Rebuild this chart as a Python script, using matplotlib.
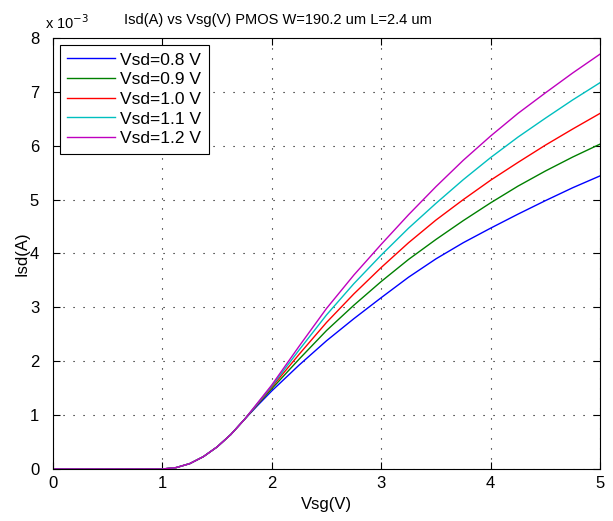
import numpy as np
import matplotlib
matplotlib.use('Agg')
import matplotlib.pyplot as plt
from matplotlib.ticker import FuncFormatter, MultipleLocator

plt.rcParams['font.family'] = ['Liberation Sans', 'DejaVu Sans']

# Vsg (V) y corrientes Isd (en mA, se pasan a A al graficar)
vsg = [0, 0.5, 1.0, 1.125, 1.25, 1.375, 1.5, 1.625, 1.75, 1.875, 2.0, 2.25, 2.5,
       2.75, 3.0, 3.25, 3.5, 3.75, 4.0, 4.25, 4.5, 4.75, 5.0]

isd_08 = [0, 0, 0, 0.026, 0.10, 0.23, 0.41, 0.64, 0.92, 1.19, 1.45, 1.93, 2.38,
          2.79, 3.18, 3.56, 3.90, 4.20, 4.47, 4.73, 4.98, 5.22, 5.44]
isd_09 = [0, 0, 0, 0.026, 0.10, 0.23, 0.41, 0.64, 0.92, 1.21, 1.49, 2.04, 2.57,
          3.04, 3.48, 3.89, 4.26, 4.61, 4.94, 5.25, 5.53, 5.79, 6.03]
isd_10 = [0, 0, 0, 0.026, 0.10, 0.23, 0.41, 0.64, 0.92, 1.22, 1.52, 2.13, 2.72,
          3.25, 3.74, 4.20, 4.62, 5.00, 5.36, 5.69, 6.01, 6.31, 6.60]
isd_11 = [0, 0, 0, 0.026, 0.10, 0.23, 0.41, 0.64, 0.92, 1.23, 1.54, 2.21, 2.86,
          3.44, 3.97, 4.47, 4.93, 5.37, 5.78, 6.16, 6.51, 6.85, 7.17]
isd_12 = [0, 0, 0, 0.026, 0.10, 0.23, 0.41, 0.64, 0.92, 1.24, 1.56, 2.28, 2.98,
          3.60, 4.17, 4.72, 5.24, 5.73, 6.18, 6.60, 6.98, 7.35, 7.70]

etiquetas = ['Vsd=0.8 V', 'Vsd=0.9 V', 'Vsd=1.0 V', 'Vsd=1.1 V', 'Vsd=1.2 V']
colores = ['#0000ff', '#008000', '#ff0000', '#00bfbf', '#bf00bf']
series = [isd_08, isd_09, isd_10, isd_11, isd_12]

fig = plt.figure(figsize=(6.13, 5.21), dpi=100)
ax = fig.add_axes([0.0865, 0.0998, 0.8923, 0.8273])

for s, c, e in zip(series, colores, etiquetas):
    ax.plot(vsg, np.array(s) * 1e-3, color=c, lw=1.0, label=e)

ax.set_xlim(0, 5)
ax.set_ylim(0, 8e-3)
ax.xaxis.set_major_locator(MultipleLocator(1))
ax.yaxis.set_major_locator(MultipleLocator(1e-3))
ax.yaxis.set_major_formatter(FuncFormatter(lambda v, p: f'{v * 1e3:g}'))
ax.tick_params(direction='in', labelsize=12, top=True, right=True, length=5)
ax.tick_params(axis='x', pad=5)
ax.tick_params(axis='y', pad=10)
ax.grid(True, color='black', linestyle=(0, (1, 8)), linewidth=0.8)
for sp in ax.spines.values():
    sp.set_linewidth(0.8)

ax.text(-0.015, 1.021, r'x 10$^{-3}$', transform=ax.transAxes, fontsize=10.5,
        ha='left', va='baseline')
ax.text(0.411, 1.025, 'Isd(A) vs Vsg(V) PMOS W=190.2 um L=2.4 um',
        transform=ax.transAxes, fontsize=10.5, ha='center', va='bottom')
ax.set_xlabel('Vsg(V)', fontsize=12, labelpad=4)
ax.set_ylabel('Isd(A)', fontsize=12, labelpad=0)

leg = ax.legend(loc='upper left', fontsize=12.5, fancybox=False, framealpha=1,
                edgecolor='black', handlelength=2.76, borderpad=0.45,
                labelspacing=0.26, borderaxespad=0.38, handletextpad=0.29)
leg.get_frame().set_linewidth(0.8)

fig.savefig('out.png', dpi=100)
